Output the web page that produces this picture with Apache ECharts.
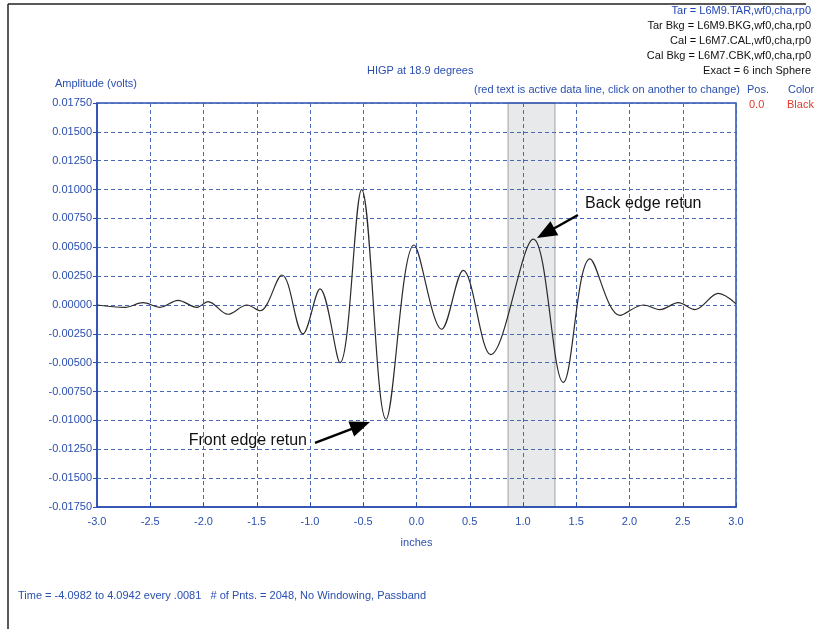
<!DOCTYPE html>
<html>
<head>
<meta charset="utf-8">
<script src="https://cdn.jsdelivr.net/npm/echarts@6/dist/echarts.min.js"></script>
<style>
html,body{margin:0;padding:0;background:#fff;}
#c{width:814px;height:629px;}
</style>
</head>
<body>
<div id="c"></div>
<script>
// ---- data ----
const positions = [-3.00,-2.737,-2.568,-2.408,-2.239,-2.061,-1.958,-1.770,-1.592,-1.469,-1.263,-1.066,-0.906,-0.718,-0.515,-0.286,-0.023,0.237,0.439,0.697,1.097,1.378,1.629,1.911,2.130,2.286,2.458,2.615,2.834,3.00];
const amplitudes = [0.0000,-0.0002,0.0002,-0.0002,0.0004,-0.0002,0.0003,-0.0008,0.0000,-0.0005,0.0026,-0.0025,0.0014,-0.0050,0.0100,-0.0099,0.0052,-0.0021,0.0030,-0.0043,0.0057,-0.0067,0.0040,-0.0009,0.0000,-0.0004,0.0002,-0.0004,0.0010,0.0001];
const bandRange = [0.86, 1.30];
const headerLines = ["Tar = L6M9.TAR,wf0,cha,rp0","Tar Bkg = L6M9.BKG,wf0,cha,rp0","Cal = L6M7.CAL,wf0,cha,rp0","Cal Bkg = L6M7.CBK,wf0,cha,rp0","Exact = 6 inch Sphere"];
const headerColors = ["#2447b8","#111","#111","#111","#111"];
const annotations = [
  {text:"Back edge retun", tip:[1.131,0.0058], tail:[1.516,0.0078], label:[1.582,0.00875], align:"left"},
  {text:"Front edge retun", tip:[-0.437,-0.01013], tail:[-0.953,-0.01195], label:[-1.028,-0.01178], align:"right"}
];

const BLUE = "#2a4fb0";
const FONT = "'Liberation Sans', Arial, sans-serif";
const chart = echarts.init(document.getElementById('c'), null, {renderer:'canvas'});

const gridLine = {show:true, lineStyle:{color:'#4a68b8', type:[4,3], width:1}};

const headerGraphics = headerLines.map((t,i)=>({
  type:'text', right:3, top:5 + i*15,
  style:{text:t, fill:headerColors[i], font:'11px ' + FONT, textAlign:'right'}
}));

const option = {
  animation:false,
  backgroundColor:'#fff',
  grid:{left:97, right:78, top:103, bottom:122, show:true, borderColor:BLUE, borderWidth:1.5, z:3},
  xAxis:{type:'value', min:-3, max:3, interval:0.5, z:3,
    name:'inches', nameLocation:'middle', nameGap:30,
    nameTextStyle:{color:BLUE, fontFamily:FONT, fontSize:11},
    axisLine:{onZero:false, lineStyle:{color:BLUE, width:1.5}},
    axisTick:{show:true, inside:true, length:4, lineStyle:{color:BLUE}},
    axisLabel:{color:BLUE, fontFamily:FONT, fontSize:11, margin:9, formatter:v=>v.toFixed(1)},
    splitLine:gridLine},
  yAxis:{type:'value', min:-0.0175, max:0.0175, interval:0.0025, z:3,
    axisLine:{show:true, onZero:false, lineStyle:{color:BLUE, width:1.5}},
    axisTick:{show:true, length:4, lineStyle:{color:BLUE}},
    axisLabel:{color:BLUE, fontFamily:FONT, fontSize:11, margin:5, formatter:v=>v.toFixed(5)},
    splitLine:gridLine},
  series:[
    {type:'line', z:1, data:[], silent:true,
     markArea:{silent:true, itemStyle:{color:'#e8e9eb', borderColor:'#a0a0a0', borderWidth:1},
       data:[[{xAxis:bandRange[0]},{xAxis:bandRange[1]}]]}},
    {type:'line', data:positions.map((x,i)=>[x, amplitudes[i]]), smooth:0.35,
     showSymbol:false, lineStyle:{color:'#2b2b2b', width:1.2}, z:5}
  ],
  graphic:[
    {type:'line', shape:{x1:8, y1:4, x2:8, y2:629}, style:{stroke:'#222', lineWidth:1.5}},
    {type:'line', shape:{x1:8, y1:4, x2:806, y2:4}, style:{stroke:'#222', lineWidth:1.5}},
    ...headerGraphics,
    {type:'text', left:367, top:65, style:{text:'HIGP at 18.9 degrees', fill:BLUE, font:'11px ' + FONT}},
    {type:'text', left:55, top:78, style:{text:'Amplitude (volts)', fill:BLUE, font:'11px ' + FONT}},
    {type:'text', left:474, top:84, style:{text:'(red text is active data line, click on another to change)', fill:BLUE, font:'11px ' + FONT}},
    {type:'text', left:747, top:84, style:{text:'Pos.', fill:BLUE, font:'11px ' + FONT}},
    {type:'text', left:788, top:84, style:{text:'Color', fill:BLUE, font:'11px ' + FONT}},
    {type:'text', left:749, top:99, style:{text:'0.0', fill:'#e03a2a', font:'11px ' + FONT}},
    {type:'text', left:787, top:99, style:{text:'Black', fill:'#e03a2a', font:'11px ' + FONT}},
    {type:'text', left:18, top:590, style:{text:'Time = -4.0982 to 4.0942 every .0081   # of Pnts. = 2048, No Windowing, Passband', fill:BLUE, font:'11px ' + FONT}}
  ]
};
chart.setOption(option);

// annotations placed in data coordinates
const extra = [];
annotations.forEach(a=>{
  const tip = chart.convertToPixel({gridIndex:0}, a.tip);
  const tail = chart.convertToPixel({gridIndex:0}, a.tail);
  const lab = chart.convertToPixel({gridIndex:0}, a.label);
  const dx = tip[0]-tail[0], dy = tip[1]-tail[1];
  const len = Math.sqrt(dx*dx+dy*dy), ux = dx/len, uy = dy/len;
  const hl = 20, hw = 8;
  const bx = tip[0]-ux*hl, by = tip[1]-uy*hl;
  extra.push({type:'line', shape:{x1:tail[0], y1:tail[1], x2:bx+ux*2, y2:by+uy*2}, style:{stroke:'#000', lineWidth:2.5}, z:20});
  extra.push({type:'polygon', shape:{points:[[tip[0],tip[1]],[bx - uy*hw, by + ux*hw],[bx + uy*hw, by - ux*hw]]}, style:{fill:'#000'}, z:20});
  extra.push({type:'text', x:lab[0], y:lab[1], style:{text:a.text, fill:'#111', font:'16px ' + FONT, textAlign:a.align, textVerticalAlign:'middle'}, z:20});
});
chart.setOption({graphic: option.graphic.concat(extra)});
</script>
</body>
</html>
